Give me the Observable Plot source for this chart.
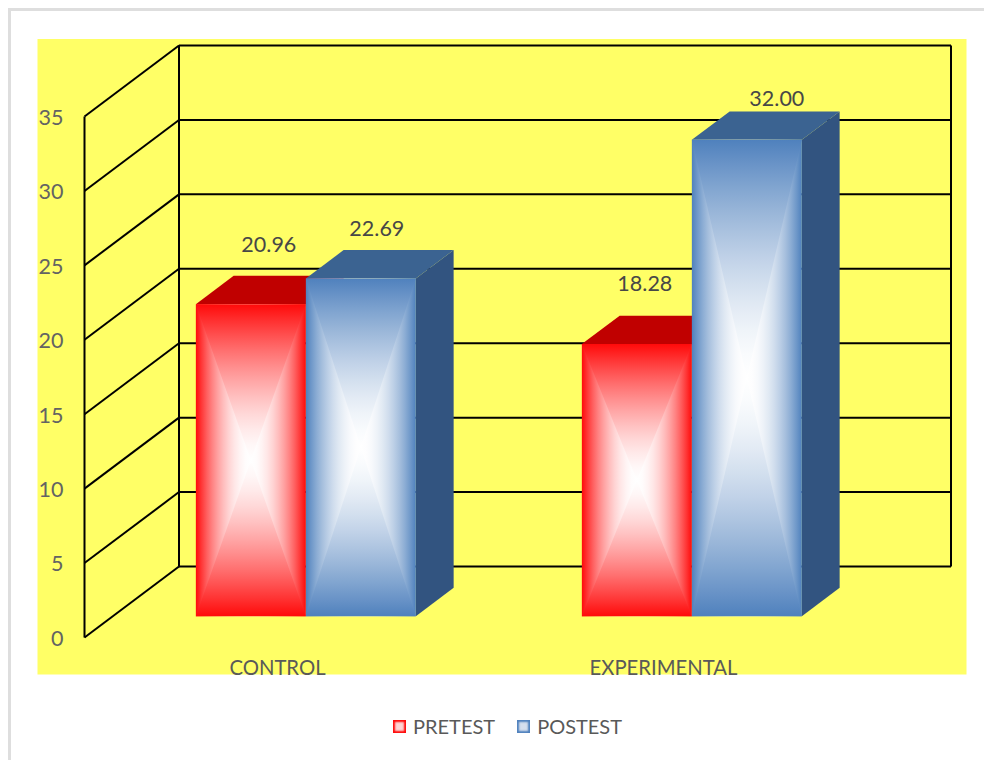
<!DOCTYPE html>
<html>
<head>
<meta charset="utf-8">
<script src="https://cdn.jsdelivr.net/npm/d3@7"></script>
<script src="https://cdn.jsdelivr.net/npm/@observablehq/plot@0.6"></script>
<style>
  html, body { margin: 0; padding: 0; background: #fff; }
  body { width: 984px; height: 760px; position: relative; overflow: hidden; font-family: Lato, sans-serif; }
  #border { position: absolute; left: 8px; top: 8px; width: 1000px; height: 780px; border: 3px solid #dedede; box-sizing: content-box; }
  #chart { position: absolute; left: 0; top: 0; }
  #chart svg { display: block; overflow: visible; }
  #legend { position: absolute; left: 393px; top: 713px; display: flex; align-items: center; color: #595959; font-size: 20px; line-height: 26px; }
  #legend .sw { width: 13px; height: 13px; display: inline-block; margin-right: 7px; }
  #legend .item { display: flex; align-items: center; margin-right: 22px; }
</style>
</head>
<body>
<div id="border"></div>
<div id="chart"></div>
<div id="legend"></div>
<script>
const groups = ["CONTROL", "EXPERIMENTAL"];
const seriesNames = ["PRETEST", "POSTEST"];
const pretest = [20.96, 18.28];
const postest = [22.69, 32.00];
const yTicks = [0, 5, 10, 15, 20, 25, 30, 35];

// Oblique projection: a unit of depth moves a point right (x units) and up (value units)
const depthX = 94.5 / 386;
const depthV = 71 / 14.886;
const barFront = 0.3, barBack = 0.7, barWidth = 110 / 386;
const px = (x, d) => x + d * depthX;
const pv = (v, d) => v + d * depthV;

const palette = {
  PRETEST: {edge: "#ff0a0a", top: "#c00000", side: "#c00000", key: "red", pale: "#ffd5d5"},
  POSTEST: {edge: "#4f81bd", top: "#3b6391", side: "#325480", key: "blue", pale: "#d5dfee"}
};

const bars = groups.flatMap((g, i) => [
  {group: g, series: "PRETEST", value: pretest[i], x0: i + 0.5 - barWidth, x1: i + 0.5},
  {group: g, series: "POSTEST", value: postest[i], x0: i + 0.5, x1: i + 0.5 + barWidth}
]);

const labelNudge = {
  "CONTROL|PRETEST": [18, -59], "CONTROL|POSTEST": [16, -49],
  "EXPERIMENTAL|PRETEST": [8, -60], "EXPERIMENTAL|POSTEST": [30, -41]
};

const poly = (pts) => pts.concat([pts[0]]).map(([x, y]) => ({x, y}));
const line = (pts, o) => Plot.line(pts, {x: "x", y: "y", stroke: "none", ...o});

const barMarks = bars.flatMap((b) => {
  const p = palette[b.series], v = b.value;
  const f = barFront, k = barBack;
  const corner = (x, val) => [px(x, f), pv(val, f)];
  const cx = (b.x0 + b.x1) / 2, cv = v / 2;
  const face = {
    side: poly([corner(b.x1, 0), corner(b.x1, v), [px(b.x1, k), pv(v, k)], [px(b.x1, k), pv(0, k)]]),
    top: poly([corner(b.x0, v), corner(b.x1, v), [px(b.x1, k), pv(v, k)], [px(b.x0, k), pv(v, k)]]),
    front: poly([corner(b.x0, 0), corner(b.x1, 0), corner(b.x1, v), corner(b.x0, v)]),
    upper: poly([corner(b.x0, v), corner(b.x1, v), corner(cx, cv)]),
    lower: poly([corner(b.x0, 0), corner(b.x1, 0), corner(cx, cv)])
  };
  return [
    line(face.side, {fill: p.side}),
    line(face.top, {fill: p.top}),
    line(face.front, {fill: `url(#${p.key}-h)`}),
    line(face.upper, {fill: `url(#${p.key}-up)`}),
    line(face.lower, {fill: `url(#${p.key}-down)`})
  ];
});

const gridStyle = {stroke: "#000", strokeWidth: 2};
const back = (v) => pv(v, 1);

const chart = Plot.plot({
  width: 984, height: 690,
  marginLeft: 37, marginRight: 18, marginTop: 38.5, marginBottom: 16,
  style: {background: "transparent", fontFamily: "Lato, sans-serif", overflow: "visible"},
  x: {type: "linear", domain: [0, 2], range: [84, 856]},
  y: {type: "linear", domain: [0, 35], range: [637, 116]},
  marks: [
    Plot.frame({fill: "#ffff66", stroke: "none", fillOpacity: 1}),
    // back wall gridlines
    Plot.link(yTicks, {x1: () => px(0, 1), x2: () => px(2, 1), y1: back, y2: back, ...gridStyle}),
    // side wall diagonals
    Plot.link(yTicks, {x1: () => px(0, 0), x2: () => px(0, 1), y1: (d) => d, y2: back, ...gridStyle}),
    // verticals
    Plot.link([0], {x1: () => px(0, 0), x2: () => px(0, 0), y1: 0, y2: 35, ...gridStyle}),
    Plot.link([0], {x1: () => px(0, 1), x2: () => px(0, 1), y1: () => back(0), y2: () => back(35), ...gridStyle}),
    Plot.link([0], {x1: () => px(2, 1), x2: () => px(2, 1), y1: () => back(0), y2: () => back(35), ...gridStyle}),
    ...barMarks,
    ...bars.map((b) => {
      const [dx, dy] = labelNudge[b.group + "|" + b.series];
      return Plot.text([b], {
        x: (d) => px((d.x0 + d.x1) / 2, barFront), y: (d) => pv(d.value, barFront),
        text: (d) => d.value.toFixed(2), dx, dy,
        fill: "#474747", fontSize: 21.5, textAnchor: "middle"
      });
    }),
    Plot.axisY({ticks: yTicks, tickSize: 0, tickPadding: 3, dx: 29, dy: 1.5, fontSize: 21.5, color: "#636363", label: null, anchor: "left"}),
    Plot.axisX({ticks: [0.5, 1.5], tickFormat: (t) => groups[Math.floor(t)], tickSize: 0, tickPadding: 3, dy: -17, fontSize: 20.3, color: "#595959", label: null, anchor: "bottom"})
  ]
});

// Gradients referenced by the bar faces: edge colour easing to white at the centre
const defs = d3.select(chart).insert("defs", ":first-child");
const stopOffsets = d3.range(0, 1.0001, 0.1);
const grad = (id, x2, stops) => {
  const g = defs.append("linearGradient").attr("id", id).attr("x1", 0).attr("y1", 0).attr("x2", x2).attr("y2", 1 - x2);
  stops.forEach(([o, c]) => g.append("stop").attr("offset", o).attr("stop-color", c));
};
Object.values(palette).forEach((p) => {
  const mix = d3.interpolateRgb(p.edge, "#ffffff");
  const ease = (t, e) => mix(1 - Math.pow(1 - t, e));
  grad(p.key + "-h", 1, [
    ...stopOffsets.map((t) => [t / 2, ease(t, 1.9)]),
    ...stopOffsets.map((t) => [1 - t / 2, ease(t, 1.9)]).reverse()
  ]);
  grad(p.key + "-up", 0, stopOffsets.map((t) => [t, ease(t, 1.5)]));
  grad(p.key + "-down", 0, stopOffsets.map((t) => [1 - t, ease(t, 1.5)]).reverse());
});
document.getElementById("chart").append(chart);

// Legend
const legend = d3.select("#legend");
seriesNames.forEach((n) => {
  const item = legend.append("div").attr("class", "item");
  item.append("span").attr("class", "sw")
    .style("background", palette[n].pale)
    .style("box-shadow", `inset 0 0 2px 2px ${palette[n].edge}`);
  item.append("span").text(n);
});
</script>
</body>
</html>
